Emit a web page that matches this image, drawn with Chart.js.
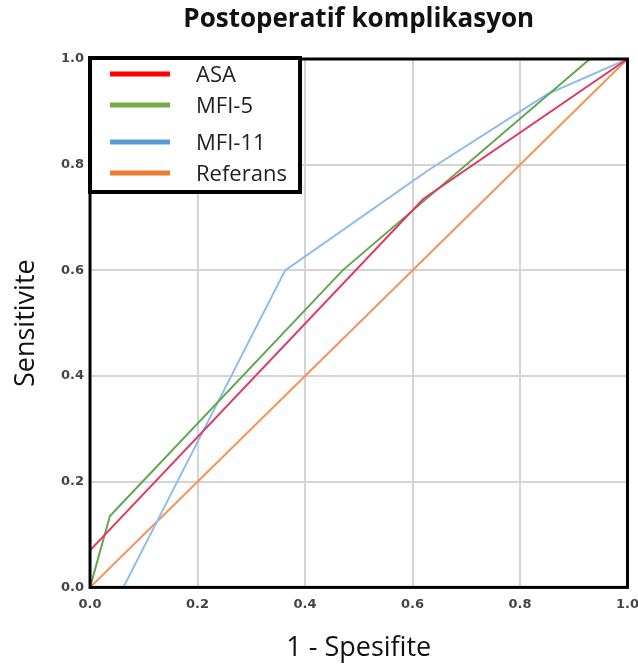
<!DOCTYPE html>
<html lang="tr">
<head>
<meta charset="UTF-8">
<title>Postoperatif komplikasyon</title>
<script src="https://cdn.jsdelivr.net/npm/chart.js"></script>
<style>
  body { margin: 0; background: #fff; }
  #wrap { width: 638px; height: 666px; overflow: hidden; }
</style>
</head>
<body>
<div id="wrap"><canvas id="myChart" width="648" height="666"></canvas></div>
<script>
// ROC egrileri (1 - spesifite, sensitivite)
var labels = ['ASA', 'MFI-5', 'MFI-11', 'Referans'];
var asaX = [0, 0, 0.62, 1];
var asaY = [0, 0.07, 0.735, 1];
var mfi5X = [0, 0.037, 0.47, 0.93, 1];
var mfi5Y = [0, 0.135, 0.6, 1, 1];
var mfi11X = [0.062, 0.363, 0.63, 0.85, 1];
var mfi11Y = [0, 0.6, 0.79, 0.933, 1];
var refX = [0, 1];
var refY = [0, 1];
var tickValues = [0, 0.2, 0.4, 0.6, 0.8, 1.0];

var lineColors = ['#e2385f', '#5fa84f', '#8dbbf0', '#f5935a'];
var legendColors = ['#ff0000', '#70ad47', '#5b9bd5', '#ed7d31'];

function pts(xs, ys) {
    var out = [];
    for (var i = 0; i < xs.length; i++) out.push({x: xs[i], y: ys[i]});
    return out;
}

var series = [pts(asaX, asaY), pts(mfi5X, mfi5Y), pts(mfi11X, mfi11Y), pts(refX, refY)];
var datasets = [];
for (var i = 0; i < labels.length; i++) {
    datasets.push({
        label: labels[i],
        data: series[i],
        showLine: true,
        borderColor: lineColors[i],
        backgroundColor: lineColors[i],
        borderWidth: 2,
        pointRadius: 0,
        tension: 0
    });
}

// cerceve, baslik ve kutu icindeki lejant
var decor = {
    id: 'decor',
    afterDatasetsDraw: function(chart) {
        var ctx = chart.ctx;
        var a = chart.chartArea;
        ctx.save();
        ctx.strokeStyle = '#000';
        ctx.lineWidth = 3;
        ctx.strokeRect(a.left, a.top, a.right - a.left, a.bottom - a.top);

        // title
        ctx.fillStyle = '#111';
        ctx.font = 'bold 26px "Open Sans"';
        ctx.textAlign = 'center';
        ctx.textBaseline = 'middle';
        ctx.fillText('Postoperatif komplikasyon', (a.left + a.right) / 2, 20);

        // legend box
        var bx = a.left, by = a.top - 1;
        ctx.fillStyle = '#fff';
        ctx.fillRect(bx, by, 210, 134);
        ctx.lineWidth = 4;
        ctx.strokeRect(bx, by, 210, 134);
        var rows = [16, 47, 84, 115];
        ctx.font = '22px "Open Sans"';
        ctx.textAlign = 'left';
        for (var i = 0; i < labels.length; i++) {
            ctx.fillStyle = legendColors[i];
            ctx.fillRect(bx + 20, by + rows[i] - 2.5, 60, 5);
            ctx.fillStyle = '#222';
            ctx.fillText(labels[i], bx + 106, by + rows[i] + 2);
        }
        ctx.restore();
    }
};

new Chart(document.getElementById('myChart'), {
    type: 'scatter',
    data: { datasets: datasets },
    plugins: [decor],
    options: {
        responsive: false,
        animation: false,
        layout: { padding: { top: 59, left: 9, right: 0, bottom: 0 } },
        plugins: { legend: { display: false }, tooltip: { enabled: false } },
        scales: {
            x: {
                type: 'linear', min: 0, max: 1,
                afterBuildTicks: function(s) { s.ticks = tickValues.map(function(v){ return {value: v}; }); },
                ticks: {
                    color: '#444', font: { family: 'DejaVu Sans', size: 13, weight: 'bold' },
                    maxRotation: 0, padding: 9,
                    callback: function(v) { return v.toFixed(1); }
                },
                grid: { color: '#d4d4d4', lineWidth: 2, drawTicks: false },
                border: { display: false },
                title: { display: true, text: '1 - Spesifite', color: '#111',
                         font: { family: 'Open Sans', size: 27, lineHeight: 1 }, padding: { top: 14 } }
            },
            y: {
                type: 'linear', min: 0, max: 1,
                afterBuildTicks: function(s) { s.ticks = tickValues.map(function(v){ return {value: v}; }); },
                ticks: {
                    color: '#444', font: { family: 'DejaVu Sans', size: 13, weight: 'bold' },
                    padding: 6,
                    callback: function(v) { return v.toFixed(1); }
                },
                grid: { color: '#d4d4d4', lineWidth: 2, drawTicks: false },
                border: { display: false },
                title: { display: true, text: 'Sensitivite', color: '#111',
                         font: { family: 'Open Sans', size: 27, lineHeight: 1 }, padding: { bottom: 15 } }
            }
        }
    }
});
</script>
</body>
</html>
